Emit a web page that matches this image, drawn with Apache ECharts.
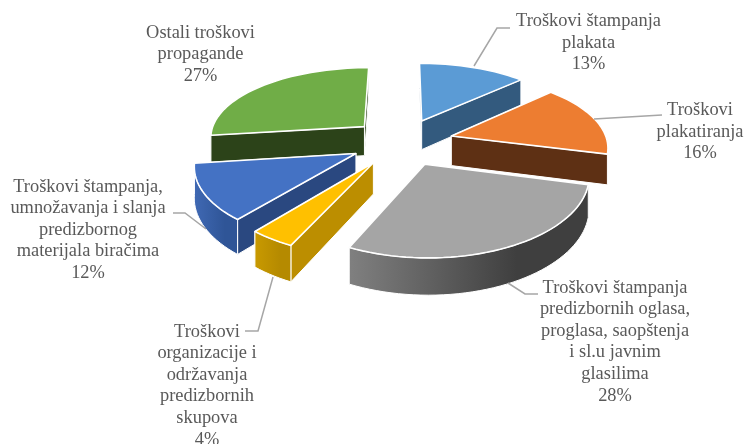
<!DOCTYPE html>
<html>
<head>
<meta charset="utf-8">
<style>html,body{margin:0;padding:0;background:#fff}#chart{width:745px;height:444px}</style>
<script src="https://cdn.jsdelivr.net/npm/echarts@6/dist/echarts.min.js"></script>
</head>
<body>
<div id="chart"></div>
<script>
var categories = [
    "Troškovi štampanja\nplakata",
    "Troškovi\nplakatiranja",
    "Troškovi štampanja\npredizbornih oglasa,\nproglasa, saopštenja\ni sl.u javnim\nglasilima",
    "Troškovi\norganizacije i\nodržavanja\npredizbornih\nskupova",
    "Troškovi štampanja,\numnožavanja i slanja\npredizbornog\nmaterijala biračima",
    "Ostali troškovi\npropagande"
];
var shares = [13, 16, 28, 4, 12, 27];

var topColors = ["#5B9BD5", "#ED7D31", "#A5A5A5", "#FFC000", "#4472C4", "#70AD47"];
var sideColors = ["#335A7E", "#5E3014", "#5A5A5A", "#BC8E00", "#2A4880", "#2C4319"];
var wallFrom = ["#3A6A96", "#8A4A1E", "#808080", "#C99A00", "#4069B4", "#8FC06B"];
var wallTo = ["#335A7E", "#6A3616", "#3F3F3F", "#B58A00", "#2F5597", "#5F9A3A"];

// label anchors and leader lines, in pixels
var labelPos = [[588.5, 10.5], [700, 99.5], [615, 277], [207, 321], [88, 176], [200.5, 22]];
var leaders = [
    [[474, 66], [497, 28], [510, 28]],
    [[594, 119], [662, 115]],
    [[508, 283], [525, 294], [538, 294]],
    [[273, 277], [258, 331], [245, 331]],
    [[173, 213], [185, 213], [206, 229]],
    null
];

// view of the tilted pie
var cx = 402, cy = 141.8, radiusX = 156, radiusZ = 72, pull = 0.33, perspX = 0.13, perspZ = 0.15, thick = 30;

function project(x, z, lift) {
    var sx = 1 / (1 - perspX * z);
    var sz = 1 / (1 - perspZ * z);
    return [cx + radiusX * x * sx, cy + radiusZ * z * sz + lift * thick * sz];
}

var total = 0;
shares.forEach(function (v) { total += v; });

var slices = [];
var acc = 0;
shares.forEach(function (v, i) {
    var a0 = acc / total * Math.PI * 2;
    acc += v;
    var a1 = acc / total * Math.PI * 2;
    var mid = (a0 + a1) / 2;
    slices.push({
        index: i, a0: a0, a1: a1,
        ox: pull * Math.sin(mid),
        oz: -pull * Math.cos(mid)
    });
});

// far slices first, the front ones paint over them
var drawOrder = slices.slice().sort(function (p, q) { return p.oz - q.oz; });

function renderSlice(params, api) {
    var sl = drawOrder[api.value(0)];
    var i = sl.index;
    var arcGround = [];
    var steps = Math.max(4, Math.ceil((sl.a1 - sl.a0) / 0.04));
    for (var k = 0; k <= steps; k++) {
        var a = sl.a0 + (sl.a1 - sl.a0) * k / steps;
        arcGround.push([sl.ox + Math.sin(a), sl.oz - Math.cos(a)]);
    }
    var topArc = arcGround.map(function (p) { return project(p[0], p[1], 0); });
    var lowArc = arcGround.map(function (p) { return project(p[0], p[1], 1); });
    var apexTop = project(sl.ox, sl.oz, 0);
    var apexLow = project(sl.ox, sl.oz, 1);
    var first = topArc.length - 1;

    function face(points, fill, depth) {
        return {
            depth: depth,
            el: {
                type: "polygon",
                shape: { points: points },
                style: { fill: fill, stroke: "#fff", lineWidth: 1, lineJoin: "round" }
            }
        };
    }

    var wallFill = new echarts.graphic.LinearGradient(0, 0, 1, 0, [
        { offset: 0, color: wallFrom[i] },
        { offset: 0.7, color: wallTo[i] },
        { offset: 1, color: wallTo[i] }
    ]);
    var midGround = arcGround[Math.floor(steps / 2)];
    var faces = [
        face([apexTop, topArc[0], lowArc[0], apexLow], sideColors[i], (sl.oz + arcGround[0][1]) / 2),
        face([apexTop, topArc[first], lowArc[first], apexLow], sideColors[i], (sl.oz + arcGround[first][1]) / 2),
        face(topArc.concat(lowArc.slice().reverse()), wallFill, midGround[1])
    ];
    faces.sort(function (p, q) { return p.depth - q.depth; });

    var children = faces.map(function (f) { return f.el; });
    children.push({
        type: "polygon",
        shape: { points: [apexTop].concat(topArc) },
        style: { fill: topColors[i], stroke: "#fff", lineWidth: 1.6, lineJoin: "round" }
    });
    return { type: "group", children: children };
}

var labelGraphics = [];
leaders.forEach(function (pts) {
    if (!pts) return;
    labelGraphics.push({
        type: "polyline", z: 10, silent: true,
        shape: { points: pts },
        style: { stroke: "#A6A6A6", lineWidth: 1.5, fill: null }
    });
});
categories.forEach(function (name, i) {
    labelGraphics.push({
        type: "text", z: 11, silent: true,
        x: labelPos[i][0], y: labelPos[i][1],
        style: {
            text: name + "\n" + shares[i] + "%",
            fill: "#595959",
            font: "18.4px 'Liberation Serif'",
            lineHeight: 21.6,
            align: "center",
            verticalAlign: "top"
        }
    });
});

var myChart = echarts.init(document.getElementById("chart"), null, { renderer: "canvas" });
myChart.setOption({
    animation: false,
    backgroundColor: "#fff",
    series: [{
        type: "custom",
        coordinateSystem: "none",
        silent: true,
        data: drawOrder.map(function (s, n) { return [n]; }),
        renderItem: renderSlice
    }],
    graphic: labelGraphics
});
</script>
</body>
</html>
